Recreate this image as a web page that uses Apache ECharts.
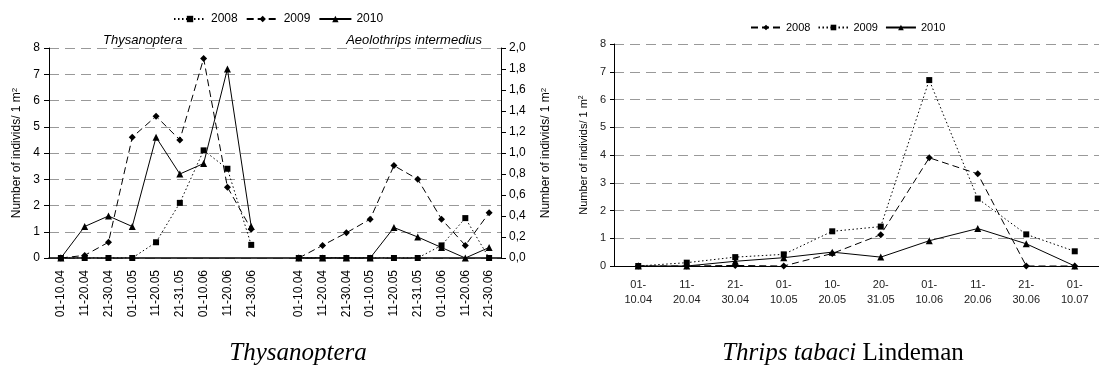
<!DOCTYPE html>
<html>
<head>
<meta charset="utf-8">
<script src="https://cdn.jsdelivr.net/npm/echarts@6/dist/echarts.min.js"></script>
<style>
html,body{margin:0;padding:0;background:#fff;width:1099px;height:368px;overflow:hidden;}
#c1{position:absolute;left:0;top:0;width:560px;height:368px;}
#c2{position:absolute;left:560px;top:0;width:539px;height:368px;}
</style>
</head>
<body>
<div id="c1"></div>
<div id="c2"></div>
<script>
// ---- Data: left chart (Thysanoptera / Aeolothrips intermedius) ----
const leftDates = ['01-10.04','11-20.04','21-30.04','01-10.05','11-20.05','21-31.05','01-10.06','11-20.06','21-30.06'];
const thys2008 = [0, 0, 0, 0, 0.6, 2.1, 4.1, 3.4, 0.5];
const thys2009 = [0, 0.1, 0.6, 4.6, 5.4, 4.5, 7.6, 2.7, 1.1];
const thys2010 = [0, 1.2, 1.6, 1.2, 4.6, 3.2, 3.6, 7.2, 1.2];
const aeol2008 = [0, 0, 0, 0, 0, 0, 0.12, 0.38, 0];
const aeol2009 = [0, 0.12, 0.24, 0.37, 0.88, 0.75, 0.37, 0.12, 0.43];
const aeol2010 = [0, 0, 0, 0, 0.29, 0.2, 0.1, 0, 0.1];

// ---- Data: right chart (Thrips tabaci Lindeman) ----
const tabDates = ['01-10.04','11-20.04','21-30.04','01-10.05','10-20.05','20-31.05','01-10.06','11-20.06','21-30.06','01-10.07'];
const tab2008 = [0, 0, 0.02, 0, 0.45, 1.13, 3.9, 3.32, 0, 0];
const tab2009 = [0, 0.12, 0.32, 0.42, 1.25, 1.42, 6.7, 2.43, 1.14, 0.53];
const tab2010 = [0, 0, 0.17, 0.3, 0.5, 0.32, 0.91, 1.35, 0.8, 0];

const FONT = '"Liberation Sans", Arial, sans-serif';
const SERIF = '"Liberation Serif", "Times New Roman", serif';
const DOTTED = [1.5, 2.5];
const DASHED = [7, 4];

// Left category axis: Thysanoptera dates, one empty slot, Aeolothrips dates
const leftCats = leftDates.concat([''], leftDates);
const pad = n => new Array(n).fill(null);
const thysData = arr => arr.concat(pad(leftDates.length + 1));
const aeolData = arr => pad(leftDates.length + 1).concat(arr);

function lineSeries(name, data, yAxisIndex, dash, symbol, size) {
  return {
    name: name, type: 'line', data: data, yAxisIndex: yAxisIndex,
    symbol: symbol, symbolSize: size, showSymbol: true,
    connectNulls: false, animation: false,
    itemStyle: { color: '#000' },
    lineStyle: { color: '#000', width: 1, type: dash }
  };
}

const gridLine = { show: true, lineStyle: { color: '#999', width: 1, type: [10, 6] } };
const axisName = 'Number of individs/ 1 m{s|2}';
const nameStyle = size => ({
  fontFamily: FONT, fontSize: size, color: '#000',
  rich: { s: { fontFamily: FONT, fontSize: size - 4, color: '#000', verticalAlign: 'top', lineHeight: size } }
});

const c1 = echarts.init(document.getElementById('c1'), null, { renderer: 'canvas' });
c1.setOption({
  animation: false,
  textStyle: { fontFamily: FONT },
  title: [
    { text: 'Thysanoptera', left: 98, top: 29, textStyle: { fontFamily: FONT, fontStyle: 'italic', fontWeight: 'normal', fontSize: 13, color: '#000' } },
    { text: 'Aeolothrips intermedius', right: 73, top: 29, textStyle: { fontFamily: FONT, fontStyle: 'italic', fontWeight: 'normal', fontSize: 13, color: '#000' } },
    { text: 'Thysanoptera', left: 293, textAlign: 'center', top: 336, textStyle: { fontFamily: SERIF, fontStyle: 'italic', fontWeight: 'normal', fontSize: 25, color: '#000' } }
  ],
  legend: {
    data: ['2008', '2009', '2010'], left: 168, top: 8, itemWidth: 32, itemHeight: 8, itemGap: 8,
    textStyle: { fontFamily: FONT, fontSize: 12, color: '#000' }
  },
  grid: { left: 49, top: 48, width: 456, height: 210 },
  xAxis: {
    type: 'category', data: leftCats, boundaryGap: true,
    axisLine: { lineStyle: { color: '#000', width: 1.5 } },
    axisTick: { interval: 0, length: 5, lineStyle: { color: '#000' } },
    axisLabel: { interval: 0, rotate: 90, margin: 12, fontSize: 12, color: '#000', fontFamily: FONT },
    splitLine: { show: false }
  },
  yAxis: [
    {
      type: 'value', min: 0, max: 8, interval: 1, position: 'left',
      name: axisName, nameLocation: 'middle', nameRotate: 90, nameGap: 17,
      nameTextStyle: nameStyle(12),
      axisLine: { show: true, lineStyle: { color: '#000' } },
      axisTick: { show: true, length: 5, lineStyle: { color: '#000' } },
      axisLabel: { fontSize: 12, color: '#000', margin: 9, fontFamily: FONT },
      splitLine: gridLine
    },
    {
      type: 'value', min: 0, max: 2, interval: 0.2, position: 'right',
      name: axisName, nameLocation: 'middle', nameRotate: 90, nameGap: 39,
      nameTextStyle: nameStyle(12),
      axisLine: { show: true, lineStyle: { color: '#000' } },
      axisTick: { show: true, length: 5, lineStyle: { color: '#000' } },
      axisLabel: { fontSize: 12, color: '#000', margin: 8, fontFamily: FONT,
        formatter: v => v.toFixed(1).replace('.', ',') },
      splitLine: { show: false }
    }
  ],
  series: [
    lineSeries('2008', thysData(thys2008), 0, DOTTED, 'rect', 6),
    lineSeries('2009', thysData(thys2009), 0, DASHED, 'diamond', 7),
    lineSeries('2010', thysData(thys2010), 0, 'solid', 'triangle', 7),
    lineSeries('2008', aeolData(aeol2008), 1, DOTTED, 'rect', 6),
    lineSeries('2009', aeolData(aeol2009), 1, DASHED, 'diamond', 7),
    lineSeries('2010', aeolData(aeol2010), 1, 'solid', 'triangle', 7)
  ]
});

const c2 = echarts.init(document.getElementById('c2'), null, { renderer: 'canvas' });
c2.setOption({
  animation: false,
  textStyle: { fontFamily: FONT },
  title: [
    {
      text: '{i|Thrips tabaci} {n|Lindeman}', left: 278, textAlign: 'center', top: 336,
      textStyle: {
        fontFamily: SERIF, fontSize: 25, color: '#000', fontWeight: 'normal',
        rich: {
          i: { fontFamily: SERIF, fontStyle: 'italic', fontSize: 25, color: '#000' },
          n: { fontFamily: SERIF, fontSize: 25, color: '#000' }
        }
      }
    }
  ],
  legend: {
    data: ['2008', '2009', '2010'], left: 185, top: 17, itemWidth: 30, itemHeight: 7, itemGap: 7,
    textStyle: { fontFamily: FONT, fontSize: 11, color: '#000' }
  },
  grid: { left: 54, top: 44, right: -5, height: 222 },
  xAxis: {
    type: 'category', data: tabDates, boundaryGap: true,
    axisLine: { lineStyle: { color: '#000', width: 1 } },
    axisTick: { interval: 0, length: 4, lineStyle: { color: '#000' } },
    axisLabel: { interval: 0, margin: 11, fontSize: 11, lineHeight: 15, color: '#222', fontFamily: FONT,
      formatter: v => v.replace('-', '-\n') },
    splitLine: { show: false }
  },
  yAxis: {
    type: 'value', min: 0, max: 8, interval: 1,
    name: axisName, nameLocation: 'middle', nameRotate: 90, nameGap: 18,
    nameTextStyle: nameStyle(11),
    axisLine: { show: true, lineStyle: { color: '#000' } },
    axisTick: { show: true, length: 4, lineStyle: { color: '#000' } },
    axisLabel: { fontSize: 11, color: '#222', margin: 8, fontFamily: FONT },
    splitLine: gridLine
  },
  series: [
    lineSeries('2008', tab2008, 0, DASHED, 'diamond', 7),
    lineSeries('2009', tab2009, 0, DOTTED, 'rect', 6),
    lineSeries('2010', tab2010, 0, 'solid', 'triangle', 7)
  ]
});
</script>
</body>
</html>
